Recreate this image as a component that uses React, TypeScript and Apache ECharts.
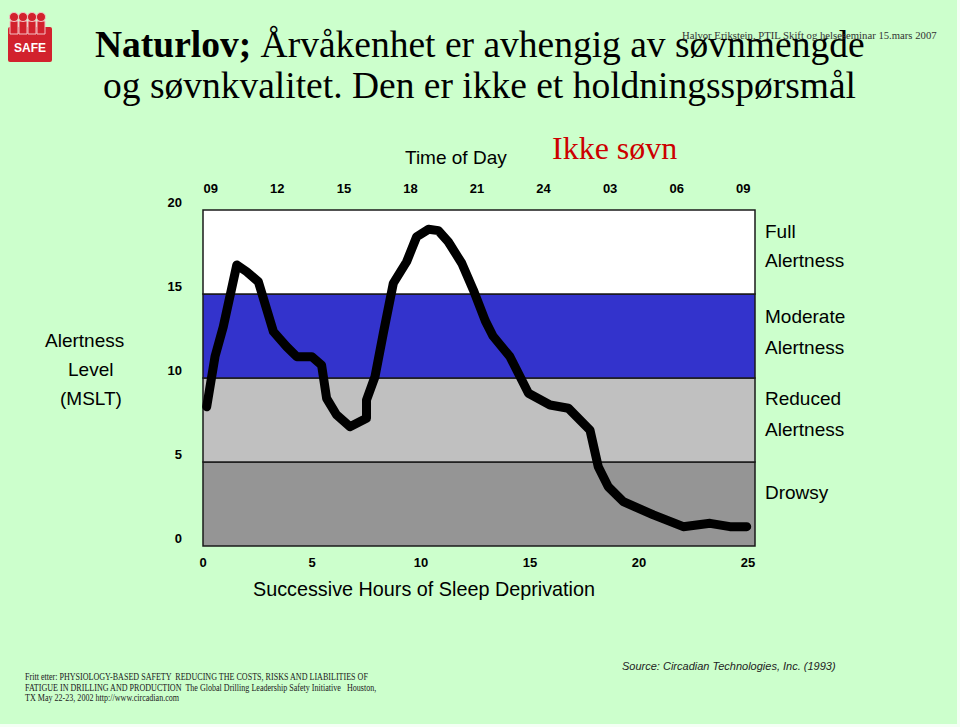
import React, { useEffect, useRef } from "react";
import * as echarts from "echarts";

// Hours of sleep deprivation (x) and alertness level (MSLT, y)
const hoursAwake = [0.17, 0.55, 0.93, 1.55, 2.0, 2.54, 3.23, 3.84, 4.3, 4.99, 5.44, 5.67, 6.13, 6.74, 7.5, 7.5, 7.89, 8.27, 8.73, 9.34, 9.8, 10.34, 10.8, 11.25, 11.87, 12.4, 12.95, 13.3, 14.08, 14.93, 15.92, 16.76, 17.75, 18.13, 18.59, 19.28, 20.66, 22.03, 23.26, 24.17, 24.94];
const alertness = [8.29, 11.27, 13.05, 16.73, 16.33, 15.73, 12.76, 11.86, 11.27, 11.27, 10.77, 8.79, 7.8, 7.1, 7.6, 8.69, 10.08, 12.66, 15.64, 16.92, 18.41, 18.85, 18.77, 18.11, 16.83, 15.24, 13.4, 12.5, 11.27, 9.09, 8.39, 8.2, 6.9, 4.72, 3.53, 2.64, 1.85, 1.15, 1.35, 1.15, 1.15];

const bottomTicks = [0, 5, 10, 15, 20, 25];
const topTickHours = [0, 3, 6, 9, 12, 15, 18, 21, 24];
const topTickLabels = ["09", "12", "15", "18", "21", "24", "03", "06", "09"];

const bandBounds = [0, 5, 10, 15, 20];
const bandColors = ["#959595", "#c0c0c0", "#3333cc", "#ffffff"];

const rightLabels = [
  { text: "Full", y: 231 },
  { text: "Alertness", y: 260 },
  { text: "Moderate", y: 316 },
  { text: "Alertness", y: 347 },
  { text: "Reduced", y: 398 },
  { text: "Alertness", y: 429 },
  { text: "Drowsy", y: 492 },
];

const SANS = "'Liberation Sans', Arial, sans-serif";
const SERIF = "'Liberation Serif', 'Times New Roman', serif";

export default function App() {
  const ref = useRef<HTMLDivElement>(null);

  useEffect(() => {
    if (!ref.current) return;
    const chart = echarts.init(ref.current, null, { renderer: "svg" });

    const lineData = hoursAwake.map((h, i) => [h, alertness[i]]);
    const bands = bandColors.map((c, i) => [
      { yAxis: bandBounds[i], itemStyle: { color: c } },
      { yAxis: bandBounds[i + 1] },
    ]);

    const txt = (text: string, x: number, y: number, extra: any = {}, scaleX = 1) => ({
      type: "text",
      x,
      y,
      scaleX,
      style: {
        text,
        fontFamily: SANS,
        fontSize: 19,
        fill: "#000",
        verticalAlign: "middle",
        ...extra,
      },
    });

    const option: any = {
      animation: false,
      backgroundColor: "#ccffcc",
      grid: { left: 203, top: 210, width: 552, height: 336, containLabel: false },
      xAxis: [
        {
          type: "value",
          position: "bottom",
          min: 0,
          max: 25.32,
          axisLine: { show: false },
          axisTick: { show: false },
          splitLine: { show: false },
          axisLabel: {
            customValues: bottomTicks,
            formatter: (v: number) => (bottomTicks.includes(Math.round(v)) ? String(Math.round(v)) : ""),
            fontFamily: SANS,
            fontWeight: "bold",
            fontSize: 13,
            color: "#000",
            margin: 10,
          },
        },
        {
          type: "value",
          position: "top",
          min: -0.35,
          max: 24.53,
          axisLine: { show: false },
          axisTick: { show: false },
          splitLine: { show: false },
          axisLabel: {
            customValues: topTickHours,
            formatter: (v: number) => {
              const i = topTickHours.indexOf(Math.round(v));
              return i >= 0 ? topTickLabels[i] : "";
            },
            fontFamily: SANS,
            fontWeight: "bold",
            fontSize: 13,
            color: "#000",
            margin: 15,
          },
        },
      ],
      yAxis: {
        type: "value",
        min: 0,
        max: 20,
        interval: 5,
        axisLine: { show: false },
        axisTick: { show: false },
        splitLine: { show: false },
        axisLabel: {
          fontFamily: SANS,
          fontWeight: "bold",
          fontSize: 13,
          color: "#000",
          margin: 21,
          verticalAlign: "bottom",
          lineHeight: 16,
        },
      },
      series: [
        {
          type: "line",
          xAxisIndex: 0,
          data: lineData,
          symbol: "none",
          lineStyle: { color: "#000", width: 9, join: "round", cap: "round" },
          markArea: {
            silent: true,
            itemStyle: { borderColor: "#1a1a1a", borderWidth: 1.5 },
            data: bands,
          },
          z: 5,
        },
      ],
      graphic: [
        // logo
        { type: "rect", shape: { x: 8, y: 27, width: 44, height: 35, r: 2 }, style: { fill: "#d2222d" } },
        ...[14, 23, 32, 41].map((cx) => ({
          type: "rect",
          shape: { x: cx - 4, y: 21, width: 8, height: 13 },
          style: { fill: "#d2222d", stroke: "#f4c0c4", lineWidth: 1 },
        })),
        ...[14, 23, 32, 41].map((cx) => ({
          type: "circle",
          shape: { cx, cy: 17, r: 4.5 },
          style: { fill: "#d2222d", stroke: "#f4c0c4", lineWidth: 1 },
        })),
        {
          type: "text",
          x: 30,
          y: 48,
          style: { text: "SAFE", fontFamily: SANS, fontWeight: "bold", fontSize: 12, fill: "#fff", align: "center", verticalAlign: "middle" },
        },
        // title
        {
          type: "text",
          x: 95,
          y: 44,
          style: {
            text: "{b|Naturlov;} Årvåkenhet er avhengig av søvnmengde",
            fontFamily: SERIF,
            fontSize: 37.5,
            fill: "#000",
            verticalAlign: "middle",
            rich: { b: { fontFamily: SERIF, fontSize: 37.5, fontWeight: "bold", fill: "#000" } },
          },
        },
        txt("og søvnkvalitet. Den er ikke et holdningsspørsmål", 103, 85, { fontFamily: SERIF, fontSize: 37.5 }),
        txt("Halvor Erikstein, PTIL Skift og helseseminar 15.mars 2007", 682, 35, { fontFamily: SERIF, fontSize: 10.7, fill: "#333" }),
        txt("Ikke søvn", 552, 148, { fontFamily: SERIF, fontSize: 32, fill: "#cc0000" }),
        txt("Time of Day", 405, 157),
        txt("Alertness", 45, 340),
        txt("Level", 68, 369),
        txt("(MSLT)", 60, 398),
        ...rightLabels.map((l) => txt(l.text, 765, l.y)),
        txt("Successive Hours of Sleep Deprivation", 253, 589, { fontSize: 19.8 }),
        txt("Source: Circadian Technologies, Inc. (1993)", 622, 666, { fontSize: 11, fontStyle: "italic", fill: "#222" }),
        txt("Fritt etter: PHYSIOLOGY-BASED SAFETY  REDUCING THE COSTS, RISKS AND LIABILITIES OF", 25, 677, { fontFamily: SERIF, fontSize: 9.5, fill: "#222" }, 0.85),
        txt("FATIGUE IN DRILLING AND PRODUCTION  The Global Drilling Leadership Safety Initiative   Houston,", 25, 688, { fontFamily: SERIF, fontSize: 9.5, fill: "#222" }, 0.85),
        txt("TX May 22-23, 2002 http://www.circadian.com", 25, 698, { fontFamily: SERIF, fontSize: 9.5, fill: "#222" }, 0.85),
        // white page edges
        { type: "rect", shape: { x: 957, y: 0, width: 3, height: 727 }, style: { fill: "#f4fff4" } },
        { type: "rect", shape: { x: 0, y: 724, width: 960, height: 3 }, style: { fill: "#f4fff4" } },
      ],
    };

    chart.setOption(option);
    return () => chart.dispose();
  }, []);

  return (
    <div
      ref={ref}
      style={{ position: "absolute", left: 0, top: 0, width: 960, height: 727 }}
    />
  );
}
